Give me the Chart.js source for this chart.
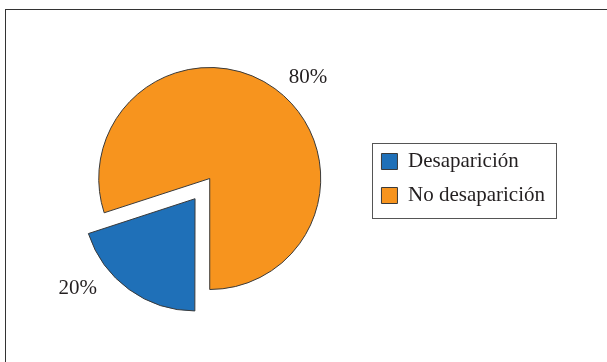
<!DOCTYPE html>
<html>
<head>
<meta charset="utf-8">
<script src="https://cdn.jsdelivr.net/npm/chart.js@4"></script>
<style>
  html, body { margin: 0; padding: 0; background: #fff; }
  #wrap { position: relative; width: 607px; height: 362px; overflow: hidden; }
  #frame { position: absolute; left: 5px; top: 9px; width: 620px; height: 400px; border-top: 1px solid #333; border-left: 1px solid #333; }
  canvas { position: absolute; left: 0; top: 0; }
</style>
</head>
<body>
<div id="wrap">
  <div id="frame"></div>
  <canvas id="myChart" width="607" height="362"></canvas>
</div>
<script>
// data
const categories = ['Desaparición', 'No desaparición'];
const percents = [20, 80];
const colors = ['#1f70b8', '#f7941e'];

window.onload = function () {
  'use strict'

  const fontFamily = '"Liberation Serif", "Times New Roman", serif';

  // percent labels outside the slices
  const pctLabels = {
    id: 'pctLabels',
    afterDatasetsDraw(chart, args, opts) {
      const ctx = chart.ctx;
      const meta = chart.getDatasetMeta(0);
      ctx.save();
      ctx.font = '21px ' + fontFamily;
      ctx.fillStyle = '#231f20';
      ctx.textAlign = 'center';
      ctx.textBaseline = 'middle';
      meta.data.forEach((arc, i) => {
        const p = arc.getProps(['x', 'y', 'startAngle', 'endAngle', 'outerRadius'], true);
        const mid = (p.startAngle + p.endAngle) / 2;
        const off = (arc.options.offset || 0) / 4; // chart.js v4 moves the arc by offset/4
        const a = mid + opts.shift[i] * Math.PI / 180;
        const d = p.outerRadius * opts.dist;
        const x = p.x + Math.cos(mid) * off + Math.cos(a) * d + opts.nudge[0];
        const y = p.y + Math.sin(mid) * off + Math.sin(a) * d + opts.nudge[1];
        ctx.fillText(percents[i] + '%', x, y);
      });
      ctx.restore();
    }
  };

  // box round the legend
  const legendFrame = {
    id: 'legendFrame',
    afterDraw(chart) {
      const boxes = chart.legend.legendHitBoxes;
      if (!boxes || !boxes.length) return;
      const ctx = chart.ctx;
      const left = Math.min(...boxes.map(b => b.left)) - 9;
      const right = Math.max(...boxes.map(b => b.left + b.width)) + 11;
      const top = boxes[0].top - 8;
      const last = boxes[boxes.length - 1];
      const bottom = last.top + last.height + 12;
      ctx.save();
      ctx.strokeStyle = '#555';
      ctx.lineWidth = 1;
      ctx.strokeRect(Math.round(left) + 0.5, Math.round(top) + 0.5, Math.round(right - left), Math.round(bottom - top));
      ctx.restore();
    }
  };

  const ctx = document.getElementById('myChart');
  const myChart = new Chart(ctx, {
    type: 'pie',
    data: {
      labels: categories,
      datasets: [{
        data: percents,
        backgroundColor: colors,
        borderColor: '#3a3a3a',
        borderWidth: 1,
        offset: [100, 0],
        hoverOffset: 0
      }]
    },
    options: {
      responsive: false,
      animation: false,
      rotation: 180,
      radius: 111,
      layout: {
        padding: { left: 51, right: 52, top: 0, bottom: 5 }
      },
      plugins: {
        legend: {
          position: 'right',
          labels: {
            boxWidth: 16,
            boxHeight: 16,
            padding: 13,
            color: '#231f20',
            font: { family: fontFamily, size: 21 }
          }
        },
        tooltip: { enabled: false },
        pctLabels: { dist: 1.3, shift: [17, 8], nudge: [-2, 3] }
      }
    },
    plugins: [pctLabels, legendFrame]
  });
};
</script>
</body>
</html>
